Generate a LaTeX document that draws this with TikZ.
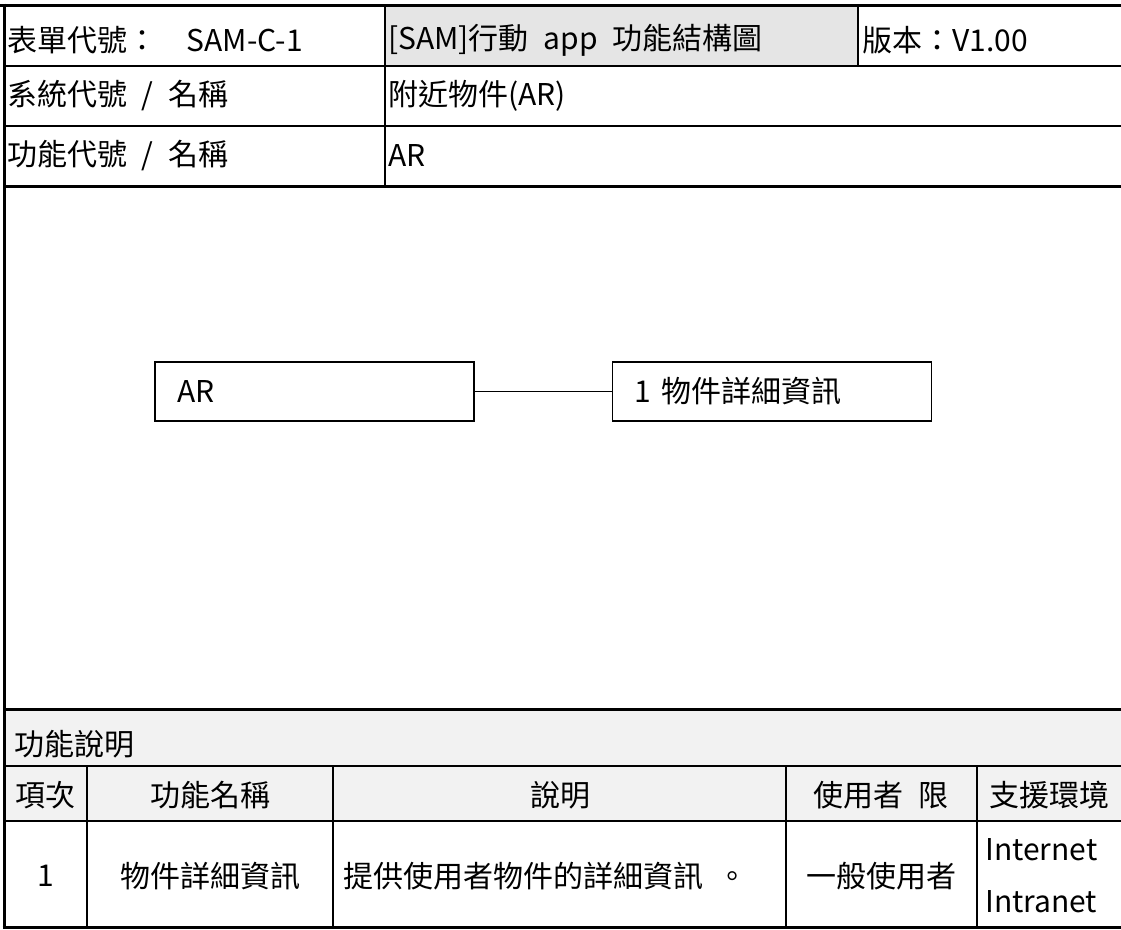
\documentclass[tikz,border=0pt]{standalone}
\usepackage{fontspec}
\setmainfont{Noto Sans CJK TC}[WordSpace=2.2]
\usetikzlibrary{positioning}

\tikzset{
  rowtext/.style={anchor=west, inner sep=0pt, font=\fontsize{30}{34}\selectfont},
  tabtext/.style={inner sep=0pt, font=\fontsize{30}{34}\selectfont},
  fnbox/.style={draw, line width=1.6pt, minimum width=319pt, minimum height=59pt,
    text width=275pt, inner xsep=22pt, align=left, font=\fontsize{30}{34}\selectfont},
  rule/.style={line width=2pt},
  heavy/.style={line width=3pt},
  fine/.style={line width=1.5pt},
}

\begin{document}
\begin{tikzpicture}[x=1pt,y=-1pt]
\useasboundingbox (0,0) rectangle (1121,929);

% form header
\fill[black!10] (385,5) rectangle (858,66);
\node[rowtext] (formid) at (7,40) {表單代號：~~SAM-C-1};
\node[rowtext] (title) at (388,40) {[SAM]行動 app 功能結構圖};
\node[rowtext] (version) at (862,40) {版本：V1.00};

\node[rowtext] (syslabel) at (7,96) {系統代號 / 名稱};
\node[rowtext] (sysname) at (388,96) {附近物件(AR)};

\node[rowtext] (fnlabel) at (7,156) {功能代號 / 名稱};
\node[rowtext] (fnname) at (388,156) {AR};

\draw[heavy] (0,5) -- (1121,5);
\draw[rule] (4,66) -- (1121,66);
\draw[rule] (4,126) -- (1121,126);
\draw[heavy] (4,186) -- (1121,186);
\draw[rule] (385,5) -- (385,186);
\draw[rule] (858,5) -- (858,66);

% structure
\node[fnbox] (ar) at (314.5,391.5) {AR};
\node[fnbox, right=137pt of ar] (detail) {1 物件詳細資訊};
\draw[line width=1.3pt] (ar) -- (detail);

% function table
\fill[black!5] (5,709) rectangle (1121,821);
\node[tabtext, anchor=west] (desc) at (14,744) {功能說明};

\node[tabtext] (hitem) at (46,795) {項次};
\node[tabtext] (hname) at (210,795) {功能名稱};
\node[tabtext] (hdesc) at (560,795) {說明};
\node[tabtext] (huser) at (881,795) {使用者 限};
\node[tabtext] (henv) at (1049,795) {支援環境};

\node[tabtext] (item) at (46,876) {1};
\node[tabtext] (name) at (210,876) {物件詳細資訊};
\node[tabtext, anchor=west] (text) at (343,876) {提供使用者物件的詳細資訊 。};
\node[tabtext] (user) at (881,876) {一般使用者};
\node[tabtext, anchor=west, align=left, font=\fontsize{30}{52}\selectfont] (env) at (985,876) {Internet\\Intranet};

\draw[heavy] (4,709) -- (1121,709);
\draw[fine] (4,766) -- (1121,766);
\draw[fine] (4,821) -- (1121,821);
\draw[heavy] (2.5,927) -- (1121,927);
\foreach \x in {87,333,786,977}
  \draw[fine] (\x,766) -- (\x,927);
\draw[heavy] (4,3.5) -- (4,928.5);

\end{tikzpicture}
\end{document}
